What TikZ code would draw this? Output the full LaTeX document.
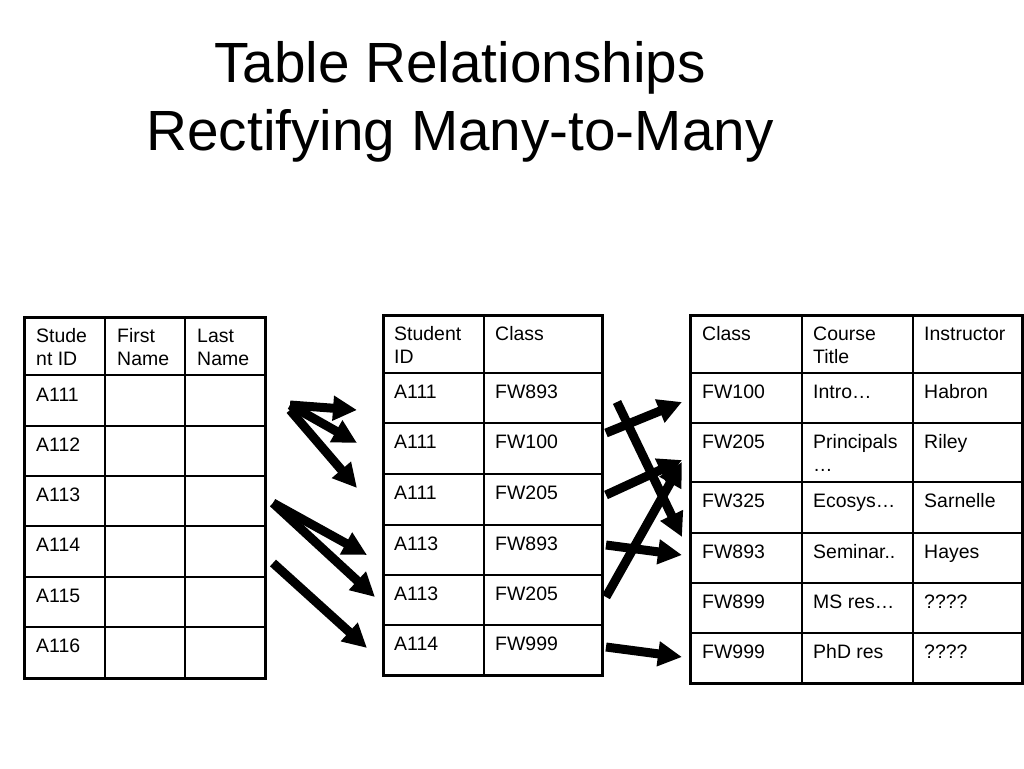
\documentclass[tikz,border=0pt]{standalone}
\usepackage{fontspec}
\setmainfont{Liberation Sans}
\usetikzlibrary{arrows.meta}
\tikzset{>={Triangle[length=7.2mm,width=7.1mm]}}

\begin{document}
\begin{tikzpicture}[x=0.3mm,y=-0.3mm,
    cell/.style={anchor=base west,inner sep=0pt,align=left,font=\fontsize{16.6}{19.6}\selectfont},
    grid/.style={line width=0.45mm},
    frame/.style={line width=0.9mm},
    link/.style={line width=2.7mm,->}]
  \useasboundingbox (0,0) rectangle (1024,768);
  % base of a two-line node is its last line
  \node[anchor=base,align=center,inner sep=0pt,font=\fontsize{48.4}{58}\selectfont] (title) at (460,150) {Table Relationships\\Rectifying Many-to-Many};

  % students
  \draw[grid] (24,375)--(265,375) (24,426)--(265,426) (24,476)--(265,476) (24,526)--(265,526)
    (24,577)--(265,577) (24,627)--(265,627) (105,317)--(105,678) (185,317)--(185,678);
  \draw[frame] (24,317) rectangle (265,678);
  \node[cell] (sid) at (36,365) {Stude\\nt ID};
  \node[cell] (sfirst) at (117,365) {First\\Name};
  \node[cell] (slast) at (197,365) {Last\\Name};
  \node[cell] (s1) at (36,401) {A111};
  \node[cell] (s2) at (36,451) {A112};
  \node[cell] (s3) at (36,501) {A113};
  \node[cell] (s4) at (36,551) {A114};
  \node[cell] (s5) at (36,602) {A115};
  \node[cell] (s6) at (36,652) {A116};

  % enrollment
  \draw[grid] (383,373)--(602,373) (383,423)--(602,423) (383,474)--(602,474) (383,525)--(602,525)
    (383,575)--(602,575) (383,625)--(602,625) (484,315)--(484,675);
  \draw[frame] (383,315) rectangle (602,675);
  \node[cell] (eid) at (394,363) {Student\\ID};
  \node[cell] (eclass) at (495,340) {Class};
  \node[cell] (e1) at (394,398) {A111};   \node[cell] (c1) at (495,398) {FW893};
  \node[cell] (e2) at (394,448) {A111};   \node[cell] (c2) at (495,448) {FW100};
  \node[cell] (e3) at (394,499) {A111};   \node[cell] (c3) at (495,499) {FW205};
  \node[cell] (e4) at (394,550) {A113};   \node[cell] (c4) at (495,550) {FW893};
  \node[cell] (e5) at (394,600) {A113};   \node[cell] (c5) at (495,600) {FW205};
  \node[cell] (e6) at (394,650) {A114};   \node[cell] (c6) at (495,650) {FW999};

  % classes
  \draw[grid] (690,373)--(1022,373) (690,423)--(1022,423) (690,482)--(1022,482) (690,533)--(1022,533)
    (690,583)--(1022,583) (690,633)--(1022,633) (802,315)--(802,683) (913,315)--(913,683);
  \draw[frame] (690,315) rectangle (1022,683);
  \node[cell] (kclass) at (702,340) {Class};
  \node[cell] (ktitle) at (813,363) {Course\\Title};
  \node[cell] (kinstr) at (924,340) {Instructor};
  \node[cell] (k1) at (702,398) {FW100}; \node[cell] (t1) at (813,398) {Intro…};       \node[cell] (i1) at (924,398) {Habron};
  \node[cell] (k2) at (702,448) {FW205}; \node[cell] (t2) at (813,471) {Principals\\…}; \node[cell] (i2) at (924,448) {Riley};
  \node[cell] (k3) at (702,507) {FW325}; \node[cell] (t3) at (813,507) {Ecosys…};      \node[cell] (i3) at (924,507) {Sarnelle};
  \node[cell] (k4) at (702,558) {FW893}; \node[cell] (t4) at (813,558) {Seminar..};    \node[cell] (i4) at (924,558) {Hayes};
  \node[cell] (k5) at (702,608) {FW899}; \node[cell] (t5) at (813,608) {MS res…};      \node[cell] (i5) at (924,608) {????};
  \node[cell] (k6) at (702,658) {FW999}; \node[cell] (t6) at (813,658) {PhD res};      \node[cell] (i6) at (924,658) {????};

  % arrow ends
  \coordinate (la) at (290,405);  \coordinate (lb) at (290,410);
  \coordinate (lc) at (273,503);  \coordinate (ld) at (273,563);
  \coordinate (l1) at (357,410);  \coordinate (l2) at (357,443);  \coordinate (l3) at (357,488);
  \coordinate (l4) at (367,555);  \coordinate (l5) at (375,597);  \coordinate (l6) at (367,648);
  \draw[link] (la)--(l1);
  \draw[link] (la)--(l2);
  \draw[link] (lb)--(l3);
  \draw[link] (lc)--(l4);
  \draw[link] (lc)--(l5);
  \draw[link] (ld)--(l6);

  \coordinate (r1) at (606,433);  \coordinate (r2) at (617,402);  \coordinate (r3) at (606,495);
  \coordinate (r4) at (606,545);  \coordinate (r5) at (606,597);  \coordinate (r6) at (606,647);
  \coordinate (q1) at (682,402);  \coordinate (q2) at (682,537);  \coordinate (q3) at (682,460);
  \coordinate (q4) at (682,555);  \coordinate (q5) at (682,462);  \coordinate (q6) at (682,657);
  \draw[link] (r1)--(q1);
  \draw[link] (r2)--(q2);
  \draw[link] (r3)--(q3);
  \draw[link] (r4)--(q4);
  \draw[link] (r5)--(q5);
  \draw[link] (r6)--(q6);
\end{tikzpicture}
\end{document}
